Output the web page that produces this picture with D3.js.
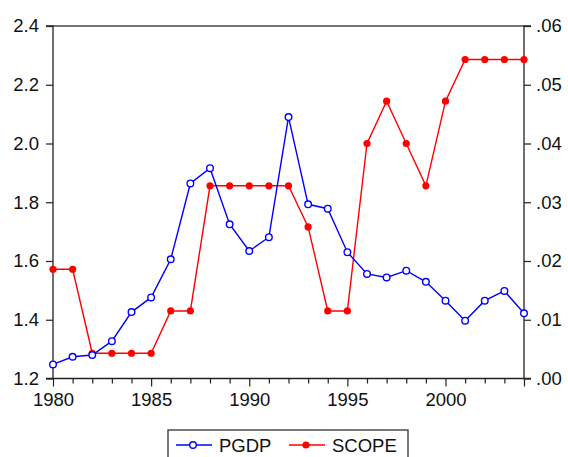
<!DOCTYPE html>
<html><head><meta charset="utf-8">
<script src="https://cdn.jsdelivr.net/npm/d3@7"></script>
<style>body{margin:0;background:#fff}svg{display:block}text{font-family:"Liberation Sans",Arial,sans-serif}</style>
</head><body>
<svg id="c" width="568" height="457"></svg>
<script>
const years = d3.range(1980, 2005);
const pgdp = [1.248,1.274,1.280,1.327,1.426,1.476,1.606,1.864,1.916,1.725,1.634,1.681,2.090,1.793,1.778,1.630,1.556,1.544,1.567,1.529,1.465,1.397,1.465,1.498,1.422];
const scope = [0.0186,0.0186,0.0043,0.0043,0.0043,0.0043,0.0115,0.0115,0.0328,0.0328,0.0328,0.0328,0.0328,0.0258,0.0115,0.0115,0.0400,0.0472,0.0400,0.0328,0.0472,0.0543,0.0543,0.0543,0.0543];
const leftTicks = [1.2,1.4,1.6,1.8,2.0,2.2,2.4];
const rightTicks = [0,0.01,0.02,0.03,0.04,0.05,0.06];
const xTicks = [1980,1985,1990,1995,2000];

const svg = d3.select("#c");
const L=53, R=524, T=26, B=378.5;
const FS = 18.5;
const x = d3.scaleLinear().domain([1980,2004]).range([L,R]);
const yl = d3.scaleLinear().domain([1.2,2.4]).range([B,T]);
const yr = d3.scaleLinear().domain([0,0.06]).range([B,T]);

// frame top
svg.append("line").attr("x1",L).attr("x2",R).attr("y1",T).attr("y2",T).attr("stroke","#444").attr("stroke-width",1.3);

const fmtR = d => d3.format(".2f")(d).replace(/^0/,"");
const gl = svg.append("g").attr("transform",`translate(${L},0)`)
  .call(d3.axisLeft(yl).tickValues(leftTicks).tickFormat(d3.format(".1f")).tickSize(7).tickPadding(7));
const gr = svg.append("g").attr("transform",`translate(${R},0)`)
  .call(d3.axisRight(yr).tickValues(rightTicks).tickFormat(fmtR).tickSize(7).tickPadding(5));
const gx = svg.append("g").attr("transform",`translate(0,${B})`)
  .call(d3.axisBottom(x).tickValues(years).tickFormat(d => xTicks.includes(d) ? d : "").tickSize(5).tickPadding(9));
gx.selectAll(".tick line").attr("y2", d => xTicks.includes(d)||d===2004 ? 8 : 5);
[gl,gr,gx].forEach(g=>{
  g.select(".domain").attr("stroke","#222").attr("stroke-width",1.3);
  g.selectAll(".tick line").attr("stroke","#222").attr("stroke-width",1.2);
  g.selectAll(".tick text").attr("font-size",FS).attr("fill","#111").attr("font-family","Liberation Sans, Arial, sans-serif");
});
gl.select(".domain").attr("d",`M-7,${B}H0V${T}H-7`);
gr.select(".domain").attr("d",`M7,${B}H0V${T}H7`);
gx.select(".domain").attr("d",`M${L},0H${R}`);

const lineL = d3.line().x((d,i)=>x(years[i])).y(d=>yl(d));
const lineR = d3.line().x((d,i)=>x(years[i])).y(d=>yr(d));

svg.append("path").datum(scope).attr("d",lineR).attr("fill","none").attr("stroke","#ff0000").attr("stroke-width",1.4);
svg.selectAll("circle.s").data(scope).join("circle").attr("class","s")
  .attr("cx",(d,i)=>x(years[i])).attr("cy",d=>yr(d)).attr("r",3.6).attr("fill","#ff0000");

svg.append("path").datum(pgdp).attr("d",lineL).attr("fill","none").attr("stroke","#0000ff").attr("stroke-width",1.4);
svg.selectAll("circle.p").data(pgdp).join("circle").attr("class","p")
  .attr("cx",(d,i)=>x(years[i])).attr("cy",d=>yl(d)).attr("r",3.3).attr("fill","#fff").attr("stroke","#0000ff").attr("stroke-width",1.4);

// legend
const lg = svg.append("g");
lg.append("rect").attr("x",168).attr("y",430).attr("width",240).attr("height",40).attr("fill","#fff").attr("stroke","#222").attr("stroke-width",1.2);
const ly = 445;
lg.append("line").attr("x1",176).attr("x2",212).attr("y1",ly).attr("y2",ly).attr("stroke","#0000ff").attr("stroke-width",1.4);
lg.append("circle").attr("cx",193).attr("cy",ly).attr("r",3.3).attr("fill","#fff").attr("stroke","#0000ff").attr("stroke-width",1.4);
lg.append("text").attr("x",219).attr("y",ly).attr("dy","0.36em").attr("font-size",FS).attr("fill","#111").text("PGDP");
lg.append("line").attr("x1",289).attr("x2",325).attr("y1",ly).attr("y2",ly).attr("stroke","#ff0000").attr("stroke-width",1.4);
lg.append("circle").attr("cx",306).attr("cy",ly).attr("r",3.6).attr("fill","#ff0000");
lg.append("text").attr("x",332).attr("y",ly).attr("dy","0.36em").attr("font-size",FS).attr("fill","#111").text("SCOPE");
</script>
</body></html>
